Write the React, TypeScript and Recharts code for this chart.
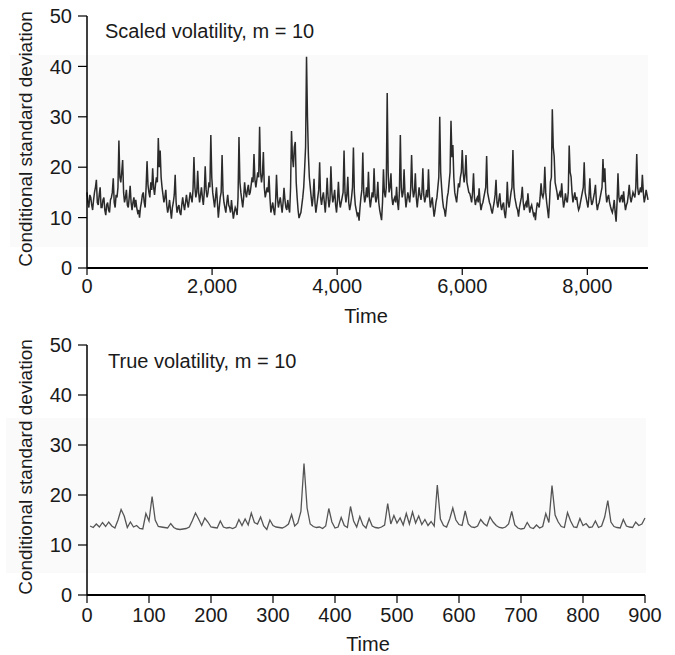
import { LineChart, Line, XAxis, YAxis } from 'recharts'

// scaled volatility, sampled every 15 time units (0 .. 8970)
const scaledStep = 15
const scaledVol = [
  15, 13, 12, 14.5, 14, 12.5, 11.5, 13.5, 15, 16, 17.5, 13, 12.5, 14.5, 16, 12, 12, 13.5, 14, 11.5,
  10.5, 12.5, 13, 11.5, 11, 13.5, 14, 15, 17.8, 13, 12, 14.5, 14, 16, 25.3, 18, 17, 19, 21.4, 15,
  13, 14, 15.5, 12.5, 12, 14, 16.3, 13, 11.5, 13, 14, 12, 13.5, 12, 11, 11.5, 10, 12, 13, 14.5,
  15, 13, 12, 16, 21.2, 16.5, 15, 14, 17, 15.5, 19.8, 16, 14.5, 16.5, 18, 17, 25.8, 20, 23.3, 18,
  16, 14.5, 13, 14, 15.5, 12.5, 11, 12, 13.5, 11.5, 9.8, 12, 13, 14.5, 18.5, 13, 11, 12, 12.5, 11,
  10.5, 12.5, 14, 12.5, 11.5, 13, 14.5, 13, 12, 13.5, 15, 14, 13, 15.5, 22, 16, 14, 15, 19.3, 15,
  13, 14.5, 16, 14, 12.5, 15, 20.2, 15.5, 14, 15, 17, 16, 26.4, 18, 15, 13.5, 12, 14, 16, 13,
  10, 12, 14, 15, 22.4, 15, 13, 12, 11, 13, 14.5, 12.5, 12, 11, 13.5, 11.5, 9.8, 11, 12, 11.5,
  10.5, 14, 26, 17, 15, 13.5, 12, 14, 17, 15, 14, 15.5, 16.5, 14.5, 15, 16.5, 18, 17, 22.6, 17.5,
  16, 17.5, 19, 18, 28, 19, 17, 18.5, 23, 16, 14, 15, 16, 15, 18.3, 14, 11, 12, 13, 11.5,
  10.5, 13, 18.5, 14, 12, 13, 14, 12.5, 11, 13, 15.9, 13.5, 12, 11.5, 13.5, 12, 11, 16, 27.2, 22,
  20, 24, 25, 17, 14, 11.5, 9.9, 10.5, 11, 12.5, 14, 16, 19.8, 24, 41.9, 30, 22.4, 18, 16, 14,
  12.2, 14, 17.7, 13, 11, 12.5, 14, 15.5, 21, 14, 12.5, 14, 15, 13, 11, 14, 17.9, 14, 12, 13.5,
  20.2, 15, 13, 14, 15.5, 12.5, 11, 13.5, 17.1, 13.5, 12, 13, 14, 15, 23.3, 15, 13, 14.5, 18.1, 13,
  11.5, 12.5, 14, 16, 23.9, 15, 12.5, 11.5, 10.5, 11, 9.4, 12, 14, 15.5, 22.9, 15, 13, 14, 16, 14,
  19.1, 14, 12, 13.5, 15, 14, 19.8, 14.5, 13, 14, 17.1, 13, 11.5, 10.5, 9.5, 13, 19.6, 15, 14, 16,
  34.7, 19, 15, 16, 18.8, 14, 12.5, 13.5, 14, 13, 16.1, 13, 11.5, 15, 26.4, 16, 14, 15, 19.6, 14.5,
  12, 13.5, 15, 14, 13, 15.5, 22.4, 16, 14, 15, 18.8, 14, 12, 14, 16, 14.5, 13.5, 15, 19.8, 14.5,
  13, 14, 15.5, 14, 19.6, 14.5, 12, 13, 14, 12, 10.2, 11.5, 13, 14, 16, 18, 30, 19, 16, 13.5,
  12, 11.5, 10.2, 12, 14, 15, 17, 19, 29.2, 22, 24.4, 18, 15, 14, 13, 15, 16.8, 16, 18, 19,
  23.4, 19, 17, 18.5, 22.4, 17, 16, 15, 14.8, 14, 13, 15, 18.8, 14, 12.5, 13.5, 14, 13, 15.8, 13,
  11.5, 12.5, 13, 14, 15, 16, 22.2, 15, 14, 13, 12.5, 11.5, 10.8, 12, 13, 14.5, 17.5, 13, 12, 13.5,
  14.8, 12.5, 11.5, 12.5, 13, 11, 9.9, 12, 17.1, 13, 12, 13.5, 15, 16, 23.4, 16, 14, 13, 12, 11.5,
  10.2, 12, 13, 14, 16.1, 13, 11.5, 12.5, 13, 12, 14.8, 12.5, 11, 12, 12.5, 11.5, 10.5, 11, 9.5, 11.5,
  13, 12.5, 12, 14, 16.8, 14.5, 14, 15, 20.1, 15, 13, 11.5, 9.9, 13, 17.1, 18, 31.5, 24, 22.1, 17,
  16, 15, 13.5, 14.5, 15, 14, 16.8, 14, 12, 13, 14.8, 13.5, 13, 15, 24.3, 19, 18.1, 15, 13, 14,
  15, 13.5, 14.1, 12.5, 11.5, 12, 13, 14, 15, 16, 21, 15, 14, 13, 12, 14, 17.8, 14, 12.5, 13,
  14, 15, 16.5, 13, 11.5, 12.5, 13, 14, 15, 16, 21.6, 17, 19.8, 15, 13, 14, 14.5, 13, 12.2, 11.5,
  11, 12, 13.5, 11, 9.2, 13, 18.8, 14, 13, 14, 14.5, 13, 15.2, 13, 11.5, 12.5, 13, 14.5, 16.5, 14,
  13, 14, 15, 14.5, 14, 16, 22.6, 16, 14.5, 15, 16, 15, 18.5, 15, 13, 14, 15.5, 14.5, 13.5,
]
const scaledTicks = [0, 2000, 4000, 6000, 8000]

// true volatility, sampled every 5 time units (5 .. 900)
const trueStep = 5
const trueVol = [
  13.8, 13.5, 14.2, 13.6, 14.5, 13.7, 14.6, 13.8, 13.4, 15, 17.1, 15.8, 13.5, 14.6, 13.6, 13.9, 13.3, 13.2, 16.3, 14.8,
  19.7, 15, 13.7, 13.6, 13.5, 13.4, 14.3, 13.5, 13.2, 13.1, 13.2, 13.3, 13.6, 14.9, 16.4, 15.2, 13.9, 15.4, 14.6, 13.6,
  13.5, 13.4, 14.8, 13.6, 13.4, 13.5, 13.3, 13.6, 15.1, 13.9, 15.2, 14, 16.4, 14.5, 14.2, 15.6, 13.8, 13.1, 15, 13.9,
  13.6, 13.5, 13.4, 13.7, 14.2, 16.1, 13.8, 14.4, 16.7, 26.3, 17.4, 14.2, 13.7, 13.5, 13.6, 13.3, 13.8, 17.3, 14.6, 13.4,
  13.6, 15.5, 13.9, 13.5, 17.7, 14.8, 13.6, 15.7, 14, 13.4, 15.3, 13.8, 13.5, 13.4, 13.6, 14, 18.3, 14.2, 15.9, 14.4,
  15.4, 14, 16.3, 14.2, 16.6, 14.4, 15.8, 14.1, 15.1, 13.9, 14.7, 13.8, 22, 15.2, 13.9, 13.6, 15.2, 17.4, 15, 14.1,
  13.9, 16.8, 14.2, 13.6, 13.5, 13.8, 15.1, 14.3, 13.8, 15.6, 14.6, 13.9, 13.5, 13.4, 13.6, 14.2, 16.7, 14, 13.4, 13.2,
  13.3, 14.5, 13.5, 13.3, 14, 13.4, 13.7, 16.3, 14.5, 21.9, 16, 14.6, 13.7, 13.5, 16.5, 14.8, 13.6, 13.5, 15.3, 13.9,
  14.3, 13.5, 13.6, 14.8, 13.5, 13.8, 15.6, 18.9, 14.6, 13.7, 13.5, 13.4, 15.1, 13.8, 13.6, 13.5, 14.6, 13.9, 14.2, 15.4,
]
const trueTicks = [0, 100, 200, 300, 400, 500, 600, 700, 800, 900]

const volTicks = [0, 10, 20, 30, 40, 50]

const scaledData = scaledVol.map((v, i) => ({ t: i * scaledStep, v }))
const trueData = trueVol.map((v, i) => ({ t: (i + 1) * trueStep, v }))

const font = '"Liberation Sans", Arial, Helvetica, sans-serif'
const tickStyle = { fill: '#1a1a1a', fontSize: 20, fontFamily: font }

export default function App() {
  return (
    <div style={{ position: 'absolute', left: 0, top: 0, width: 675, height: 655, background: '#fff', overflow: 'hidden' }}>
      {/* faint scanned band behind each panel */}
      <div style={{ position: 'absolute', left: 10, top: 55, width: 638, height: 192, background: '#fafafa' }} />
      <div style={{ position: 'absolute', left: 6, top: 418, width: 640, height: 155, background: '#fafafa' }} />

      <div style={{ position: 'absolute', left: 0, top: 0 }}>
        <LineChart width={675} height={330} data={scaledData} margin={{ top: 16, right: 27, bottom: 22, left: 0 }}>
          <XAxis
            dataKey="t"
            type="number"
            domain={[0, 8970]}
            ticks={scaledTicks}
            tickFormatter={(t: number) => t.toLocaleString('en-US')}
            height={40}
            tickSize={7}
            tickMargin={4}
            axisLine={{ stroke: '#000', strokeWidth: 2 }}
            tickLine={{ stroke: '#000', strokeWidth: 1.2 }}
            tick={tickStyle}
          />
          <YAxis
            type="number"
            domain={[0, 50]}
            ticks={volTicks}
            width={87}
            tickSize={9}
            tickMargin={6}
            axisLine={{ stroke: '#000', strokeWidth: 1.5 }}
            tickLine={{ stroke: '#000', strokeWidth: 1.2 }}
            tick={tickStyle}
          />
          <Line type="linear" dataKey="v" stroke="#2b2b2b" strokeWidth={1.5} dot={false} isAnimationActive={false} />
        </LineChart>
      </div>

      <div style={{ position: 'absolute', left: 0, top: 330 }}>
        <LineChart width={675} height={325} data={trueData} margin={{ top: 15, right: 30, bottom: 20, left: 0 }}>
          <XAxis
            dataKey="t"
            type="number"
            domain={[0, 900]}
            ticks={trueTicks}
            height={40}
            tickSize={8}
            tickMargin={5}
            axisLine={{ stroke: '#000', strokeWidth: 2 }}
            tickLine={{ stroke: '#000', strokeWidth: 1.2 }}
            tick={tickStyle}
          />
          <YAxis
            type="number"
            domain={[0, 50]}
            ticks={volTicks}
            width={87}
            tickSize={9}
            tickMargin={6}
            axisLine={{ stroke: '#000', strokeWidth: 1.5 }}
            tickLine={{ stroke: '#000', strokeWidth: 1.2 }}
            tick={tickStyle}
          />
          <Line type="linear" dataKey="v" stroke="#555" strokeWidth={1.3} dot={false} isAnimationActive={false} />
        </LineChart>
      </div>

      <svg width={675} height={655} style={{ position: 'absolute', left: 0, top: 0, pointerEvents: 'none' }}>
        <g fontFamily={font} fill="#1a1a1a">
          <text x={105} y={38} fontSize={20}>Scaled volatility, m = 10</text>
          <text x={108} y={368} fontSize={20}>True volatility, m = 10</text>
          <text x={366} y={323} fontSize={20} textAnchor="middle">Time</text>
          <text x={368} y={651} fontSize={20} textAnchor="middle">Time</text>
          <text x={32} y={139} fontSize={19} textAnchor="middle" transform="rotate(-90 32 139)">
            Conditional standard deviation
          </text>
          <text x={32} y={467} fontSize={19} textAnchor="middle" transform="rotate(-90 32 467)">
            Conditional standard deviation
          </text>
        </g>
      </svg>
    </div>
  )
}
